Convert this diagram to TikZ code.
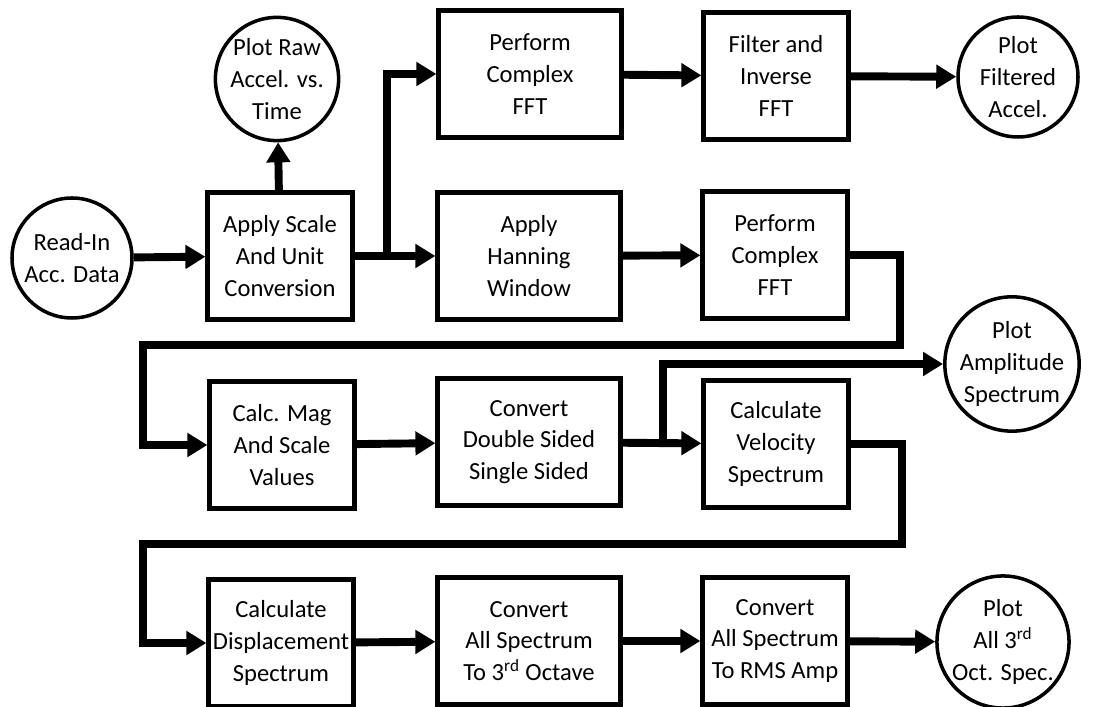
\documentclass[tikz,border=0pt]{standalone}
\usepackage{fontspec}
\setmainfont{Carlito}
\usetikzlibrary{arrows.meta}

\begin{document}
\begin{tikzpicture}[
		procbox/.style={draw, rectangle, line width=2.4pt, minimum width=2.9cm, minimum height=2.54cm, inner sep=1pt, align=center, font=\fontsize{14}{18}\selectfont},
		widebox/.style={procbox, minimum width=3.66cm},
		plotcirc/.style={draw, circle, line width=2pt, minimum size=2.4cm, inner sep=0pt, align=center, font=\fontsize{14}{18}\selectfont},
		flow/.style={line width=4.5pt, -{Triangle[length=4mm, width=4.6mm]}}
	]
				\useasboundingbox (0,0) rectangle (22.36,14.14);
				
				\node (readin) [plotcirc] at (1.44,8.98) {Read-In\\Acc. Data};
				\node (scale) [procbox] at (5.60,9.02) {Apply Scale\\And Unit\\Conversion};
				\node (plotraw) [plotcirc] at (5.54,12.56) {Plot Raw\\Accel. vs.\\Time};
				\node (fftone) [widebox] at (10.60,12.66) {Perform\\Complex\\FFT};
				\node (filter) [procbox] at (15.52,12.62) {Filter and\\Inverse\\FFT};
				\node (plotfilt) [plotcirc] at (20.36,12.60) {Plot\\Filtered\\Accel.};
				\node (hanning) [widebox] at (10.58,9.02) {Apply\\Hanning\\Window};
				\node (ffttwo) [procbox] at (15.50,9.04) {Perform\\Complex\\FFT};
				\node (mag) [procbox] at (5.64,5.24) {Calc. Mag\\And Scale\\Values};
				\node (sided) [widebox] at (10.58,5.30) {Convert\\Double Sided\\Single Sided};
				\node (vel) [procbox] at (15.52,5.26) {Calculate\\Velocity\\Spectrum};
				\node (plotamp) [plotcirc] at (20.24,6.86) {Plot\\Amplitude\\Spectrum};
				\node (disp) [procbox] at (5.62,1.28) {Calculate\\Displacement\\Spectrum};
				\node (octave) [widebox] at (10.58,1.32) {Convert\\All Spectrum\\To 3\textsuperscript{rd} Octave};
				\node (rms) [procbox] at (15.50,1.32) {Convert\\All Spectrum\\To RMS Amp};
				\node (plotoct) [plotcirc] at (20.06,1.30) {Plot\\All 3\textsuperscript{rd}\\Oct. Spec.};
				
				% Turning points
				\coordinate (splitone) at (7.74,9.02);
				\coordinate (splittwo) at (13.26,5.30);
				\coordinate (turnone) at (18.00,7.24);
				\coordinate (backone) at (2.86,7.24);
				\coordinate (turntwo) at (18.04,3.26);
				\coordinate (backtwo) at (2.86,3.26);
				
				% Arrows
				\draw[flow] (readin) -- (scale);
				\draw[flow] (scale) -- (plotraw);
				\draw[flow] (scale) -- (hanning);
				\draw[flow] (scale.east -| splitone) |- (fftone.west);
				\draw[flow] (fftone) -- (filter);
				\draw[flow] (filter) -- (plotfilt);
				\draw[flow] (hanning) -- (ffttwo);
				\draw[flow] (ffttwo.east) -| (turnone) -- (backone) |- (mag.west);
				\draw[flow] (mag) -- (sided);
				\draw[flow] (sided) -- (vel);
				\draw[flow] (sided.east -| splittwo) |- (plotamp.west);
				\draw[flow] (vel.east) -| (turntwo) -- (backtwo) |- (disp.west);
				\draw[flow] (disp) -- (octave);
				\draw[flow] (octave) -- (rms);
				\draw[flow] (rms) -- (plotoct);
				
			\end{tikzpicture}
\end{document}
